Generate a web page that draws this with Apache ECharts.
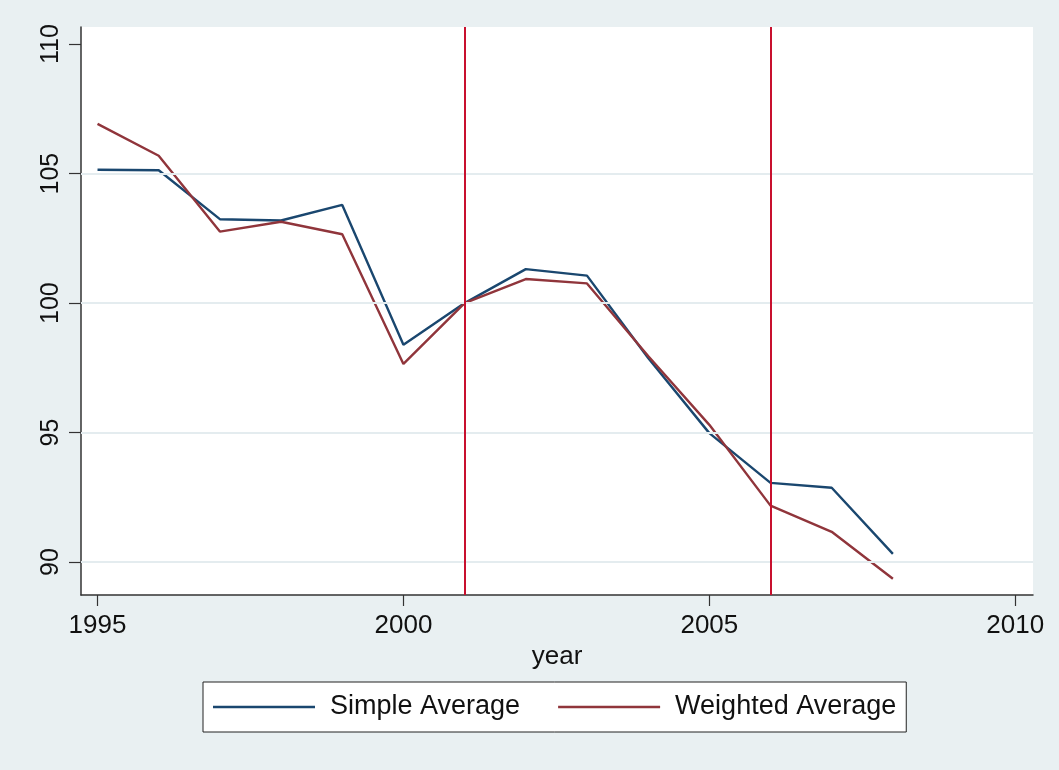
<!DOCTYPE html>
<html>
<head>
<meta charset="utf-8">
<script src="https://cdn.jsdelivr.net/npm/echarts@6/dist/echarts.min.js"></script>
<style>
html,body{margin:0;padding:0;background:#e9f0f2;}
#chart{width:1059px;height:770px;}
</style>
</head>
<body>
<div id="chart"></div>
<script>
// ---- data ----
const years = [1995, 1996, 1997, 1998, 1999, 2000, 2001, 2002, 2003, 2004, 2005, 2006, 2007, 2008];
const simpleAverage = [105.15, 105.13, 103.24, 103.19, 103.79, 98.39, 100.0, 101.31, 101.06, 97.88, 94.98, 93.06, 92.87, 90.32];
const weightedAverage = [106.92, 105.69, 102.76, 103.14, 102.66, 97.65, 100.0, 100.93, 100.76, 97.96, 95.30, 92.18, 91.17, 89.36];
const xTicks = [1995, 2000, 2005, 2010];
const yTicks = [90, 95, 100, 105, 110];
const yGridLines = [90, 95, 100, 105];
const referenceYears = [2001, 2006];
const seriesNames = ['Simple Average', 'Weighted Average'];

const FONT = 'Liberation Sans, Arial, Helvetica, sans-serif';
const chart = echarts.init(document.getElementById('chart'), null, {renderer: 'canvas'});

const option = {
  backgroundColor: '#e9f0f2',
  animation: false,
  grid: {
    left: 81, right: 26, top: 27, bottom: 175,
    show: true, backgroundColor: '#ffffff', borderWidth: 0,
    outerBoundsMode: 'none'
  },
  xAxis: {
    type: 'value',
    min: 1994.73, max: 2010.29,
    name: 'year', nameLocation: 'middle', nameGap: 41,
    nameTextStyle: {fontFamily: FONT, fontSize: 26, color: '#111'},
    axisLine: {show: true, lineStyle: {color: '#333', width: 1.5}},
    axisTick: {show: true, length: 11, customValues: xTicks, lineStyle: {color: '#333', width: 1.2}},
    axisLabel: {customValues: xTicks, margin: 18, fontFamily: FONT, fontSize: 26, color: '#111',
      formatter: v => String(v)},
    splitLine: {show: false}
  },
  yAxis: {
    type: 'value',
    min: 88.73, max: 110.66,
    axisLine: {show: true, lineStyle: {color: '#333', width: 1.5}},
    axisTick: {show: true, length: 12, customValues: yTicks, lineStyle: {color: '#333', width: 1.2}},
    axisLabel: {customValues: yTicks, rotate: 90, margin: 17, fontFamily: FONT, fontSize: 25, color: '#111',
      formatter: v => String(v)},
    splitLine: {show: false}
  },
  legend: {
    data: seriesNames,
    left: 203, top: 682,
    orient: 'horizontal',
    padding: [11, 10, 11, 10],
    icon: 'rect',
    itemWidth: 102, itemHeight: 2.5, itemGap: 38,
    backgroundColor: '#ffffff', borderColor: '#222', borderWidth: 1,
    textStyle: {fontFamily: FONT, fontSize: 27, lineHeight: 28, color: '#111', padding: [0, 0, 0, 10]}
  },
  series: [
    {
      name: 'grid', type: 'line', data: [], z: 1, silent: true,
      markLine: {
        silent: true, symbol: 'none', label: {show: false},
        lineStyle: {color: '#e4ecef', width: 2, type: 'solid'},
        data: yGridLines.map(v => ({yAxis: v}))
      }
    },
    {
      name: seriesNames[0], type: 'line', z: 3,
      data: years.map((y, i) => [y, simpleAverage[i]]),
      symbol: 'none', lineStyle: {color: '#1a476f', width: 2.4}, itemStyle: {color: '#1a476f'},
      markLine: {
        silent: true, symbol: 'none', label: {show: false},
        lineStyle: {color: '#c8102e', width: 2, type: 'solid'},
        data: referenceYears.map(v => ({xAxis: v}))
      }
    },
    {
      name: seriesNames[1], type: 'line', z: 3,
      data: years.map((y, i) => [y, weightedAverage[i]]),
      symbol: 'none', lineStyle: {color: '#90353b', width: 2.4}, itemStyle: {color: '#90353b'}
    }
  ]
};
chart.setOption(option);
</script>
</body>
</html>
